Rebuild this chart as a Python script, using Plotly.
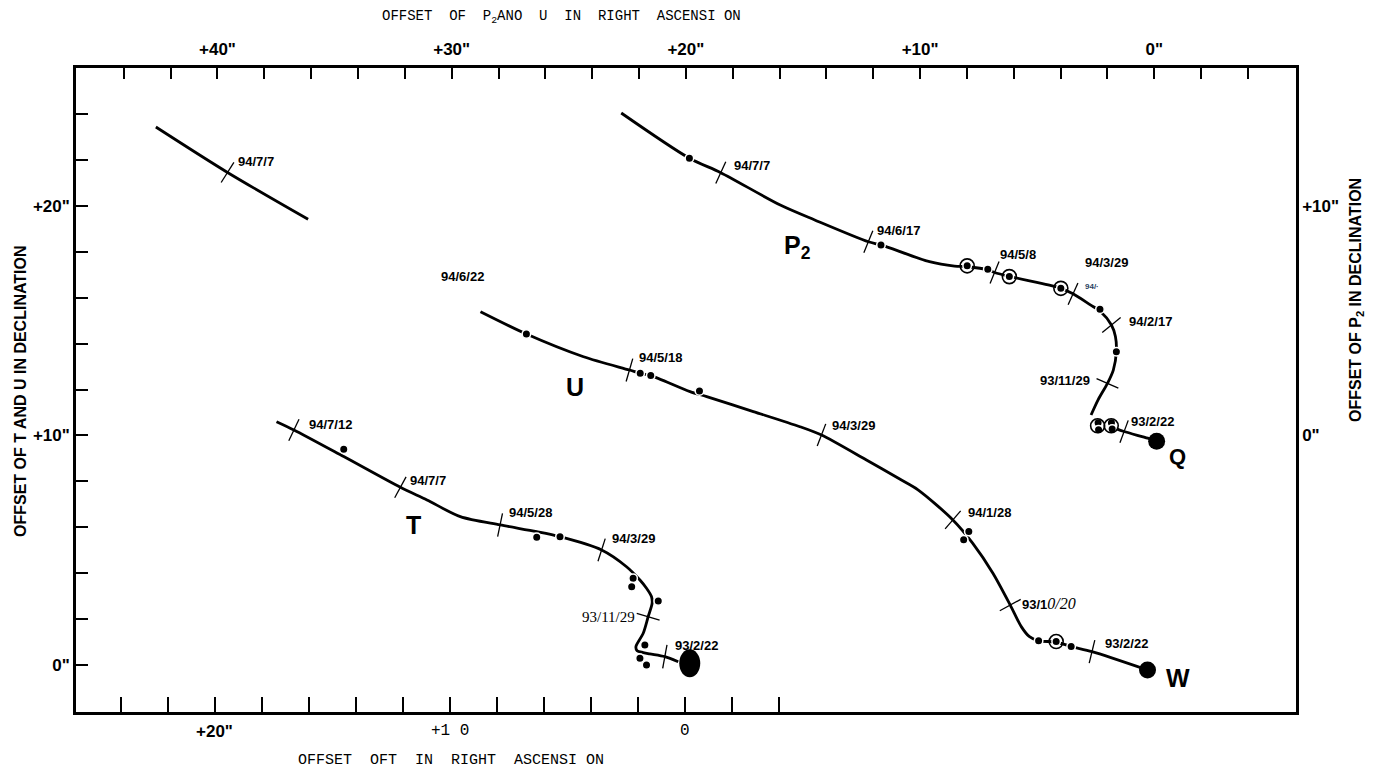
import math
import plotly.graph_objects as go

# ---------------- data (offsets in arcsec) ----------------
# Fragment P2 : RA on top axis, Dec on right axis
P2_RA = [22.76, 19.85, 18.51, 15.97, 14.50, 12.21, 11.67, 9.60, 8.53, 7.99, 7.11, 6.82, 6.19,
         4.53, 3.99, 3.47, 2.73, 2.32, 1.83, 1.66, 1.62, 1.75, 2.00, 2.40, 2.70]
P2_DEC = [14.05, 12.08, 11.45, 10.04, 9.39, 8.44, 8.30, 7.57, 7.38, 7.35, 7.22, 7.10, 6.93,
          6.56, 6.41, 6.17, 5.69, 5.42, 4.81, 4.31, 3.65, 2.85, 2.27, 1.55, 0.89]
P2_TAIL_RA = [1.66, 1.29, 0.28, -0.10]
P2_TAIL_DEC = [0.31, 0.17, -0.12, -0.25]
P2_DOT_RA = [19.85, 11.67, 7.99, 7.11, 6.19, 3.99, 2.32, 1.62, 2.40, 2.38, 1.83, 1.80]
P2_DOT_DEC = [12.08, 8.30, 7.39, 7.24, 6.92, 6.41, 5.50, 3.65, 0.55, 0.25, 0.55, 0.28]
P2_RING_RA = [7.99, 6.19, 3.99, 2.42, 1.84]
P2_RING_DEC = [7.39, 6.92, 6.41, 0.42, 0.42]
P2_TICK_RA = [18.51, 12.21, 6.82, 3.47, 1.83, 2.00, 1.29]
P2_TICK_DEC = [11.45, 8.44, 7.10, 6.17, 4.81, 2.27, 0.17]
P2_TICK_DATES = ["94/7/7", "94/6/17", "94/5/8", "94/3/29", "94/2/17", "93/11/29", "93/2/22"]
Q_RA = [-0.10]
Q_DEC = [-0.25]

# Fragment U : RA on top axis, Dec on left axis
U_RA = [28.77, 26.81, 24.37, 22.41, 21.95, 21.50, 19.82, 19.11, 17.12, 15.13, 14.21, 12.29,
        10.87, 10.09, 8.60, 7.75, 6.89, 6.15, 5.68, 5.33, 4.94, 4.19, 3.55, 2.66, 0.29]
U_DEC = [15.39, 14.42, 13.43, 12.85, 12.71, 12.61, 11.91, 11.69, 11.04, 10.38, 10.02, 8.93,
         8.10, 7.63, 6.32, 5.30, 4.00, 2.61, 1.67, 1.23, 1.05, 1.00, 0.80, 0.58, -0.22]
U_DOT_RA = [26.81, 21.95, 21.50, 19.42, 7.92, 8.14, 4.94, 4.19, 3.55]
U_DOT_DEC = [14.42, 12.71, 12.61, 11.94, 5.81, 5.45, 1.05, 1.02, 0.80]
U_RING_RA = [4.19]
U_RING_DEC = [1.02]
U_TICK_RA = [22.41, 14.21, 8.60, 6.15, 2.66]
U_TICK_DEC = [12.85, 10.02, 6.32, 2.61, 0.58]
U_TICK_DATES = ["94/5/18", "94/3/29", "94/1/28", "93/10/20", "93/2/22"]
U_START_DATE = "94/6/22"
W_RA = [0.29]
W_DEC = [-0.22]

# Far segment (upper left) : RA on top axis, Dec on left axis
FAR_RA = [42.63, 39.57, 36.13]
FAR_DEC = [23.44, 21.46, 19.42]
FAR_TICK_RA = [39.57]
FAR_TICK_DEC = [21.46]
FAR_TICK_DATES = ["94/7/7"]

# Fragment T : RA on bottom axis, Dec on left axis
T_RA = [17.37, 16.63, 14.51, 12.10, 10.97, 9.55, 7.86, 6.30, 5.31, 3.54, 2.48, 1.91, 1.63,
        1.42, 1.39, 1.56, 1.77, 2.08, 2.03, 1.77, 1.49, 0.85, 0.28]
T_DEC = [10.60, 10.24, 9.08, 7.74, 7.19, 6.46, 6.10, 5.81, 5.59, 5.01, 4.28, 3.70, 3.34,
         2.98, 2.69, 2.10, 1.38, 0.80, 0.62, 0.54, 0.48, 0.36, 0.14]
T_DOT_RA = [14.51, 6.30, 5.31, 2.20, 2.26, 1.13, 1.70, 1.91, 1.63]
T_DOT_DEC = [9.40, 5.56, 5.59, 3.78, 3.41, 2.79, 0.87, 0.29, 0.00]
T_TICK_RA = [16.63, 12.10, 7.86, 3.54, 1.56, 0.85]
T_TICK_DEC = [10.24, 7.74, 6.10, 5.01, 2.10, 0.36]
T_TICK_DATES = ["94/7/12", "94/7/7", "94/5/28", "94/3/29", "93/11/29", "93/2/22"]
T_ORIGIN_RA = [-0.21]
T_ORIGIN_DEC = [0.07]

# axis ticks / labels
TOP_TICKS = list(range(-4, 45, 2))
TOP_LABEL_VALS = [40, 30, 20, 10, 0]
TOP_LABEL_TEXT = ['+40"', '+30"', '+20"', '+10"', '0"']
BOTTOM_TICKS = list(range(-4, 25, 2))
BOTTOM_LABEL_VALS = [20, 10, 0]
BOTTOM_LABEL_TEXT = ['+20"', '+1 0', '0']
LEFT_TICKS = list(range(0, 25, 2))
LEFT_LABEL_VALS = [20, 10, 0]
LEFT_LABEL_TEXT = ['+20"', '+10"', '0"']
RIGHT_LABEL_VALS = [10, 0]
RIGHT_LABEL_TEXT = ['+10"', '0"']

# ---------------- styling ----------------
W_PX, H_PX = 1379, 773
PAGE_OFFSET = 8  # default page margin around the figure div
MARG = dict(l=76 - PAGE_OFFSET, r=83 + PAGE_OFFSET, t=68 - PAGE_OFFSET, b=61 + PAGE_OFFSET)
PW = W_PX - MARG["l"] - MARG["r"]
PH = H_PX - MARG["t"] - MARG["b"]
X_TOP = [46.04, -6.05]
X_BOT = [25.90, -26.00]
Y_LEFT = [-2.05, 26.01]
Y_RIGHT = [Y_LEFT[0] - 10, Y_LEFT[1] - 10]

NARROW = "Liberation Sans Narrow, Liberation Sans, Arial, sans-serif"
MONO = "Liberation Mono, DejaVu Sans Mono, monospace"
SERIF = "Liberation Serif, DejaVu Serif, serif"

P2_SHIFT = [(31, -7), (30, -11), (23, -18), (33, -31), (39, -4), (-42, -3), (28, -10)]
U_SHIFT = [(31, -13), (32, -9), (37, -7), (39, -2), (34, -8)]
T_SHIFT = [(37, -5), (28, -7), (30, -12), (32, -11), (-40, 0), (32, -11)]
FAR_SHIFT = [(28, -11)]


def px_x(v, rng):
    return (v - rng[0]) * PW / (rng[1] - rng[0])


def px_y(v, rng):
    return PH - (v - rng[0]) * PH / (rng[1] - rng[0])


def tick_angles(px, py, tx, ty, xr, yr):
    pts = [(px_x(x, xr), px_y(y, yr)) for x, y in zip(px, py)]
    out = []
    for a, b in zip(tx, ty):
        p = (px_x(a, xr), px_y(b, yr))
        best = None
        for i in range(len(pts) - 1):
            (x1, y1), (x2, y2) = pts[i], pts[i + 1]
            dx, dy = x2 - x1, y2 - y1
            l2 = dx * dx + dy * dy or 1e-9
            t = max(0.0, min(1.0, ((p[0] - x1) * dx + (p[1] - y1) * dy) / l2))
            d = (x1 + t * dx - p[0]) ** 2 + (y1 + t * dy - p[1]) ** 2
            if best is None or d < best[0]:
                best = (d, dx, dy)
        out.append(math.degrees(math.atan2(best[2], best[1])))
    return out


fig = go.Figure()
LINE = dict(color="black", width=2.8, shape="spline", smoothing=0.8)


def add_fragment(paths, dots, rings, ticks, angles, xa, ya):
    for px, py in paths:
        fig.add_trace(go.Scatter(x=px, y=py, mode="lines", line=LINE, xaxis=xa, yaxis=ya,
                                 hoverinfo="skip", showlegend=False))
    fig.add_trace(go.Scatter(x=ticks[0], y=ticks[1], mode="markers", xaxis=xa, yaxis=ya,
                             marker=dict(symbol="line-ns", size=17, angle=angles,
                                         line=dict(color="black", width=1.3)),
                             hoverinfo="skip", showlegend=False))
    if dots:
        fig.add_trace(go.Scatter(x=dots[0], y=dots[1], mode="markers", xaxis=xa, yaxis=ya,
                                 marker=dict(symbol="circle", size=8.5, color="black",
                                             line=dict(color="white", width=1.5)),
                                 hoverinfo="skip", showlegend=False))
    if rings:
        fig.add_trace(go.Scatter(x=rings[0], y=rings[1], mode="markers", xaxis=xa, yaxis=ya,
                                 marker=dict(symbol="circle-open", size=14, color="black",
                                             line=dict(color="black", width=1.6)),
                                 hoverinfo="skip", showlegend=False))


p2_ang = tick_angles(P2_RA + P2_TAIL_RA, P2_DEC + P2_TAIL_DEC, P2_TICK_RA, P2_TICK_DEC, X_TOP, Y_RIGHT)
add_fragment([(P2_RA, P2_DEC), (P2_TAIL_RA, P2_TAIL_DEC)], (P2_DOT_RA, P2_DOT_DEC),
             (P2_RING_RA, P2_RING_DEC), (P2_TICK_RA, P2_TICK_DEC), p2_ang, "x2", "y2")

u_ang = tick_angles(U_RA, U_DEC, U_TICK_RA, U_TICK_DEC, X_TOP, Y_LEFT)
add_fragment([(U_RA, U_DEC)], (U_DOT_RA, U_DOT_DEC), (U_RING_RA, U_RING_DEC),
             (U_TICK_RA, U_TICK_DEC), u_ang, "x2", "y")

far_ang = tick_angles(FAR_RA, FAR_DEC, FAR_TICK_RA, FAR_TICK_DEC, X_TOP, Y_LEFT)
add_fragment([(FAR_RA, FAR_DEC)], None, None, (FAR_TICK_RA, FAR_TICK_DEC), far_ang, "x2", "y")

t_ang = tick_angles(T_RA, T_DEC, T_TICK_RA, T_TICK_DEC, X_BOT, Y_LEFT)
add_fragment([(T_RA, T_DEC)], (T_DOT_RA, T_DOT_DEC), None, (T_TICK_RA, T_TICK_DEC), t_ang, "x", "y")

# nuclei Q and W
fig.add_trace(go.Scatter(x=Q_RA, y=Q_DEC, mode="markers", xaxis="x2", yaxis="y2",
                         marker=dict(size=17, color="black"), hoverinfo="skip", showlegend=False))
fig.add_trace(go.Scatter(x=W_RA, y=W_DEC, mode="markers", xaxis="x2", yaxis="y",
                         marker=dict(size=17, color="black"), hoverinfo="skip", showlegend=False))

# T origin ellipse
ex = 10.5 / abs(PW / (X_BOT[1] - X_BOT[0]))
ey = 14.0 / (PH / (Y_LEFT[1] - Y_LEFT[0]))
fig.add_shape(type="circle", xref="x", yref="y",
              x0=T_ORIGIN_RA[0] - ex, x1=T_ORIGIN_RA[0] + ex,
              y0=T_ORIGIN_DEC[0] - ey, y1=T_ORIGIN_DEC[0] + ey,
              fillcolor="black", line=dict(color="black", width=0))

ann = []
DATE_FONT = dict(family=NARROW, size=13, color="black", weight="bold")


def date_labels(tx, ty, dates, shifts, xr, yr, special=None):
    for i, (a, b, d, (dx, dy)) in enumerate(zip(tx, ty, dates, shifts)):
        f = dict(DATE_FONT)
        txt = d
        if special and i in special:
            txt, f = special[i](d, f)
        ann.append(dict(x=a, y=b, xref=xr, yref=yr, text=txt, showarrow=False,
                        xshift=dx, yshift=-dy, font=f, xanchor="center", yanchor="middle"))


date_labels(P2_TICK_RA, P2_TICK_DEC, P2_TICK_DATES, P2_SHIFT, "x2", "y2")
date_labels(U_TICK_RA, U_TICK_DEC, U_TICK_DATES, U_SHIFT, "x2", "y",
            special={3: lambda d, f: ("<b>" + d[:4] + "</b><span style='font-family:Liberation Serif;"
                                      "font-style:italic;font-weight:normal;font-size:16px'>"
                                      + d[4:] + "</span>", dict(f, weight="normal"))})
date_labels(FAR_TICK_RA, FAR_TICK_DEC, FAR_TICK_DATES, FAR_SHIFT, "x2", "y")
date_labels(T_TICK_RA, T_TICK_DEC, T_TICK_DATES, T_SHIFT, "x", "y",
            special={4: lambda d, f: (d, dict(family=SERIF, size=15, color="black"))})
# partially printed label near P2
ann.append(dict(x=P2_TICK_RA[3], y=P2_TICK_DEC[3], xref="x2", yref="y2", text="94/·",
                showarrow=False, xshift=19, yshift=7, font=dict(family=NARROW, size=8, weight="bold")))
ann.append(dict(x=U_RA[0], y=U_DEC[0], xref="x2", yref="y", text=U_START_DATE, showarrow=False,
                xshift=-18, yshift=35, font=DATE_FONT))

NAME_FONT = dict(family=NARROW, size=25, color="black", weight="bold")
ann += [
    dict(x=P2_TICK_RA[1], y=P2_TICK_DEC[1], xref="x2", yref="y2", text="P<sub>2</sub>",
         showarrow=False, xshift=-71, yshift=-5, font=NAME_FONT),
    dict(x=U_TICK_RA[0], y=U_TICK_DEC[0], xref="x2", yref="y", text="U",
         showarrow=False, xshift=-54, yshift=-17, font=NAME_FONT),
    dict(x=T_TICK_RA[1], y=T_TICK_DEC[1], xref="x", yref="y", text="T",
         showarrow=False, xshift=13, yshift=-38, font=NAME_FONT),
    dict(x=Q_RA[0], y=Q_DEC[0], xref="x2", yref="y2", text="Q",
         showarrow=False, xshift=21, yshift=-15, font=dict(NAME_FONT, size=22)),
    dict(x=W_RA[0], y=W_DEC[0], xref="x2", yref="y", text="W",
         showarrow=False, xshift=30, yshift=-8, font=NAME_FONT),
]

# bottom axis labels
for v, t in zip(BOTTOM_LABEL_VALS, BOTTOM_LABEL_TEXT):
    f = dict(family=NARROW, size=17, color="black", weight="bold") if '"' in t else \
        dict(family=MONO, size=16, color="black")
    ann.append(dict(x=v, y=0, xref="x", yref="paper", text=t, showarrow=False,
                    xanchor="center", yanchor="middle", yshift=-19, font=f))


def paper_x(px):
    return (px - PAGE_OFFSET - MARG["l"]) / PW


def paper_y(py):
    return 1 - (py - PAGE_OFFSET - MARG["t"]) / PH


# axis titles
TITLE_FONT = dict(family=NARROW, size=16, color="black", weight="bold")
ann += [
    dict(x=paper_x(20), y=paper_y(391), xref="paper", yref="paper",
         text="OFFSET OF T AND U IN DECLINATION", textangle=-90, showarrow=False,
         xanchor="center", yanchor="middle", font=TITLE_FONT),
    dict(x=paper_x(1356), y=paper_y(300), xref="paper", yref="paper",
         text="OFFSET OF P<sub>2</sub> IN DECLINATION", textangle=-90, showarrow=False,
         xanchor="center", yanchor="middle", font=TITLE_FONT),
    dict(x=paper_x(561), y=paper_y(17), xref="paper", yref="paper",
         text="OFFSET  OF  P<sub>2</sub>ANO  U  IN  RIGHT  ASCENSI ON", showarrow=False,
         xanchor="center", yanchor="middle", font=dict(family=MONO, size=14, color="black")),
    dict(x=paper_x(451), y=paper_y(761), xref="paper", yref="paper",
         text="OFFSET  OFT  IN  RIGHT  ASCENSI ON", showarrow=False,
         xanchor="center", yanchor="middle", font=dict(family=MONO, size=15, color="black")),
]

TICKFONT = dict(family=NARROW, size=17, color="black", weight="bold")
fig.update_layout(
    width=W_PX, height=H_PX, margin=MARG, paper_bgcolor="white", plot_bgcolor="white",
    showlegend=False, annotations=ann,
    xaxis=dict(range=X_BOT, showgrid=False, zeroline=False, showline=True, linewidth=3,
               linecolor="black", ticks="inside", ticklen=15, tickwidth=1.5, tickcolor="black",
               tickmode="array", tickvals=BOTTOM_TICKS, showticklabels=False),
    xaxis2=dict(range=X_TOP, overlaying="x", side="top", showgrid=False, zeroline=False,
                showline=True, linewidth=3, linecolor="black", ticks="inside", ticklen=11,
                tickwidth=2, tickcolor="black", tickmode="array", tickvals=TOP_LABEL_VALS,
                ticktext=TOP_LABEL_TEXT, tickfont=TICKFONT, ticklabelstandoff=3,
                minor=dict(tickmode="array", tickvals=TOP_TICKS, ticks="inside", ticklen=11,
                           tickwidth=1.6, tickcolor="black", showgrid=False)),
    yaxis=dict(range=Y_LEFT, showgrid=False, zeroline=False, showline=True, linewidth=2.5,
               linecolor="black", ticks="inside", ticklen=12, tickwidth=1.8, tickcolor="black",
               tickmode="array", tickvals=LEFT_LABEL_VALS, ticktext=LEFT_LABEL_TEXT,
               tickfont=TICKFONT,
               minor=dict(tickmode="array", tickvals=LEFT_TICKS, ticks="inside", ticklen=12,
                          tickwidth=1.6, tickcolor="black", showgrid=False)),
    yaxis2=dict(range=Y_RIGHT, overlaying="y", side="right", showgrid=False, zeroline=False,
                showline=True, linewidth=2.5, linecolor="black", ticks="",
                tickmode="array", tickvals=RIGHT_LABEL_VALS, ticktext=RIGHT_LABEL_TEXT,
                tickfont=TICKFONT),
)

fig.write_html("out.html")
